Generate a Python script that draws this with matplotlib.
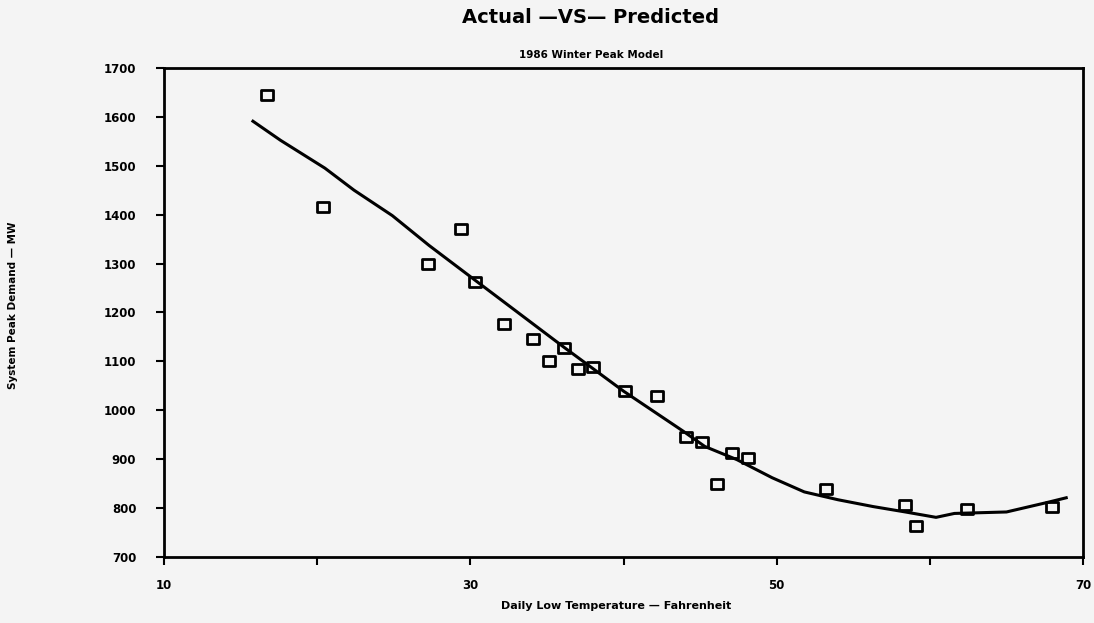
import numpy as np
import matplotlib as mpl
mpl.use('Agg')
from matplotlib import pyplot as plt
from matplotlib.path import Path

# Actual observations (daily low temp, system peak demand)
actual_temp = [16.7, 20.4, 27.2, 29.4, 30.3, 32.2, 34.1, 35.1, 36.1, 37.0, 38.0,
               40.1, 42.2, 44.1, 45.1, 46.1, 47.1, 48.1, 53.2, 58.4, 59.1, 62.4, 68.0]
actual_mw = [1645, 1415, 1300, 1370, 1263, 1176, 1146, 1100, 1127, 1084, 1088,
             1039, 1029, 946, 936, 850, 912, 903, 838, 807, 764, 799, 803]

# Predicted model curve
pred_temp = [15.8, 17.6, 20.5, 22.4, 24.9, 27.3, 30.3, 36.1, 40.0, 43.9, 45.3,
             47.4, 49.7, 51.8, 54.0, 56.3, 58.4, 60.4, 61.6, 65.0, 67.6, 68.9]
pred_mw = [1591, 1552, 1495, 1450, 1398, 1337, 1266, 1129, 1039, 957, 926,
           899, 862, 833, 817, 803, 792, 781, 789, 792, 811, 821]

x_ticks = [10, 20, 30, 40, 50, 60, 70]
x_labels = ['10', '', '30', '', '50', '', '70']
y_ticks = list(range(700, 1701, 100))

bg = '#f4f4f4'
fig = plt.figure(figsize=(10.94, 6.23), dpi=100, facecolor=bg)
ax = fig.add_axes([0.150, 0.106, 0.840, 0.785], facecolor=bg)

# wide open rectangle marker like the plotter output
box = Path([(-1.3, -1), (1.3, -1), (1.3, 1), (-1.3, 1), (-1.3, -1)],
           [Path.MOVETO, Path.LINETO, Path.LINETO, Path.LINETO, Path.CLOSEPOLY])

ax.plot(pred_temp, pred_mw, '-k', lw=2.2, solid_joinstyle='round')
ax.plot(actual_temp, actual_mw, linestyle='none', marker=box, markersize=8.5,
        markerfacecolor='none', markeredgecolor='k', markeredgewidth=2)

ax.set_xlim(10, 70)
ax.set_ylim(700, 1700)
ax.set_xticks(x_ticks)
ax.set_xticklabels(x_labels)
ax.set_yticks(y_ticks)
for s in ax.spines.values():
    s.set_linewidth(2)
ax.tick_params(direction='out', length=6, width=1.5, labelsize=8.5)
for lab in ax.get_xticklabels() + ax.get_yticklabels():
    lab.set_fontweight('bold')
ax.tick_params(axis='x', pad=10)
ax.tick_params(axis='y', pad=14)

fig.text(0.54, 0.972, 'Actual \u2014VS\u2014 Predicted', ha='center', va='center',
         fontsize=14, fontweight='bold')
fig.text(0.54, 0.911, '1986 Winter Peak Model', ha='center', va='center',
         fontsize=7.5, fontweight='bold')
fig.text(0.012, 0.51, 'System Peak Demand \u2014 MW', rotation=90, ha='center',
         va='center', fontsize=7.5, fontweight='bold')
fig.text(0.563, 0.028, 'Daily Low Temperature \u2014 Fahrenheit', ha='center',
         va='center', fontsize=8, fontweight='bold')

fig.savefig('out.png', dpi=100, facecolor=bg)
